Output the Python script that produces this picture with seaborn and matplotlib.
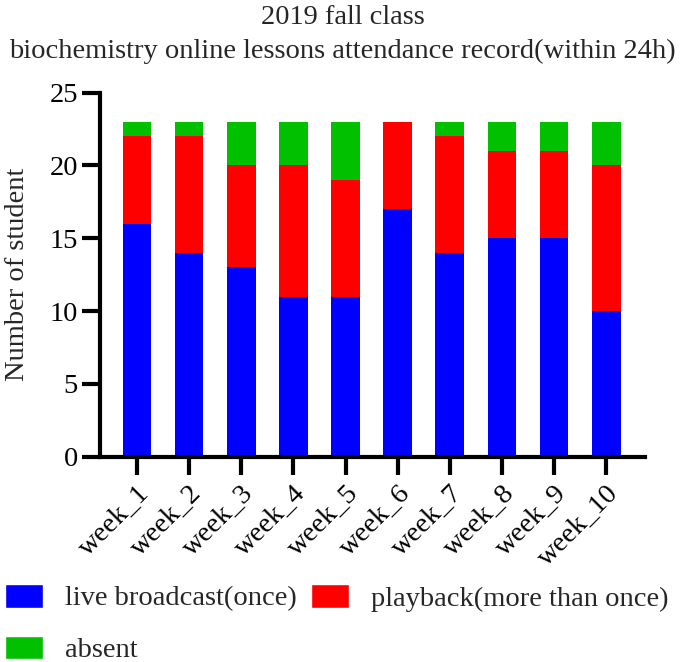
import numpy as np
import pandas as pd
import matplotlib
matplotlib.use('Agg')
import matplotlib.pyplot as plt
import seaborn as sns
from matplotlib.patches import Patch

# Data
weeks = ['week_1', 'week_2', 'week_3', 'week_4', 'week_5',
         'week_6', 'week_7', 'week_8', 'week_9', 'week_10']
live = [16, 14, 13, 11, 11, 17, 14, 15, 15, 10]
playback = [6, 8, 7, 9, 8, 6, 8, 6, 6, 10]
absent = [1, 1, 3, 3, 4, 0, 1, 2, 2, 3]

colors = {'live': '#0000ff', 'playback': '#ff0000', 'absent': '#00c000'}

df = pd.DataFrame({'week': weeks, 'live': live, 'playback': playback, 'absent': absent})
df['live_play'] = df['live'] + df['playback']
df['total'] = df['live_play'] + df['absent']

sns.set_style('white')
plt.rcParams['font.family'] = ['Liberation Serif', 'DejaVu Serif']

fs = 20.5

fig = plt.figure(figsize=(6.85, 6.62), dpi=100)
ax = fig.add_axes([0.146, 0.31, 0.796, 0.55])

# stacked bars by overlaying cumulative totals
for col, c in [('total', colors['absent']), ('live_play', colors['playback']),
               ('live', colors['live'])]:
    sns.barplot(data=df, x='week', y=col, color=c, width=0.55, saturation=1,
                linewidth=0, ax=ax)

ax.set_xlim(-0.71, 9.75)
ax.set_ylim(0, 25)
ax.set_yticks([0, 5, 10, 15, 20, 25])
ax.set_xlabel('')
ax.set_ylabel('Number of student', fontsize=fs, labelpad=14)
fig.suptitle('2019 fall class\nbiochemistry online lessons attendance record(within 24h)',
             fontsize=fs, x=0.5, y=0.992, va='top', linespacing=1.45)

sns.despine(ax=ax)
for s in ['left', 'bottom']:
    ax.spines[s].set_linewidth(3)
    ax.spines[s].set_color('black')
ax.tick_params(axis='both', which='major', direction='out', length=13, width=3,
               labelsize=fs, bottom=True, left=True, color='black', labelcolor='black')
ax.tick_params(axis='x', pad=4)
ax.tick_params(axis='y', pad=3)
plt.setp(ax.get_xticklabels(), rotation=45, ha='right', rotation_mode='anchor')

# legend order so that row 1 = live, playback; row 2 = absent
handles = [Patch(facecolor=colors['live'], label='live broadcast(once)'),
           Patch(facecolor=colors['absent'], label='absent'),
           Patch(facecolor=colors['playback'], label='playback(more than once)')]
fig.legend(handles=handles, loc='upper left', bbox_to_anchor=(0.008, 0.118), ncol=2,
           frameon=False, fontsize=fs, handlelength=1.33, handleheight=0.9,
           columnspacing=0.5, handletextpad=0.77, labelspacing=0.85, borderpad=0,
           borderaxespad=0)

fig.savefig('out.png', dpi=100)
